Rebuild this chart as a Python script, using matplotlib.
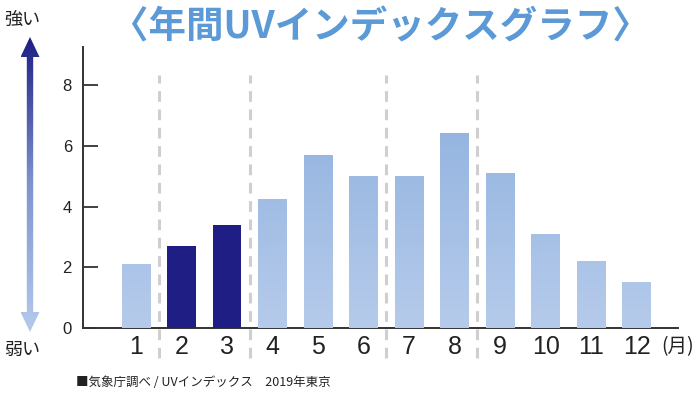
"""Annual UV index bar chart (Tokyo 2019)."""
import matplotlib
matplotlib.use("Agg")
import matplotlib.pyplot as plt
import matplotlib.patches as mpatches
from matplotlib.colors import LinearSegmentedColormap, Normalize
import numpy as np

plt.rcParams["font.family"] = ["Liberation Sans", "Noto Sans CJK JP", "DejaVu Sans"]
JP = ["Noto Sans CJK JP", "DejaVu Sans"]

# data
months = [1, 2, 3, 4, 5, 6, 7, 8, 9, 10, 11, 12]
uv_index = [2.1, 2.7, 3.4, 4.25, 5.7, 5.0, 5.0, 6.4, 5.1, 3.1, 2.2, 1.5]
highlight = [2, 3]
yticks = [0, 2, 4, 6, 8]
season_breaks = [1.5, 3.5, 6.5, 8.5]

NAVY = "#1e1e84"
bar_cmap = LinearSegmentedColormap.from_list("uvbar", ["#b6cbeb", "#95b5e0"])
bar_norm = Normalize(0, 6.5)
BAR_W = 0.62

fig = plt.figure(figsize=(7, 4), dpi=100)

# main axes: x from 83px to 678px, y baseline at 328px, top at 47px
ax = fig.add_axes([83 / 700, 1 - 328 / 400, (678 - 83) / 700, (328 - 47) / 400])

for m, v in zip(months, uv_index):
    x0 = m - BAR_W / 2
    if m in highlight:
        ax.bar(m, v, width=BAR_W, color=NAVY, zorder=3)
    else:
        grad = np.linspace(0, v, 100).reshape(-1, 1)
        ax.imshow(grad, cmap=bar_cmap, norm=bar_norm, origin="lower",
                  extent=[x0, x0 + BAR_W, 0, v], aspect="auto", zorder=3)

# dashed season separators
for xb in season_breaks:
    ax.plot([xb, xb], [-1.0, 8.35], color="#cfcfcf", lw=2.2,
            dashes=(3.5, 2.5), clip_on=False, zorder=2)

ax.set_xlim(-0.165, 12.91)
ax.set_ylim(0, 9.27)

for s in ["top", "right"]:
    ax.spines[s].set_visible(False)
for s in ["left", "bottom"]:
    ax.spines[s].set_color("#333333")
    ax.spines[s].set_linewidth(1.4)

ax.set_yticks(yticks)
ax.set_yticklabels([str(t) for t in yticks], fontsize=12, color="#222222")
ax.tick_params(axis="y", direction="in", length=11, width=1.3, color="#333333", pad=8)
ax.set_xticks(months)
ax.set_xticklabels([str(m) for m in months], fontsize=18, color="#222222")
ax.tick_params(axis="x", length=0, pad=5)
ax.text(12.55, -0.63, "(月)", fontsize=14, family=JP, color="#222222",
        ha="left", va="center", clip_on=False)

# overlay for title, arrow and notes in pixel coordinates
ov = fig.add_axes([0, 0, 1, 1], zorder=-1)
ov.axis("off")

ov.text(380, 27, "〈年間UVインデックスグラフ〉", fontsize=27, fontweight="bold",
        family=JP, color="#5b9ad6", ha="center", va="center")
ov.text(4, 20, "強い", fontsize=13, family=JP, color="#222222", ha="left", va="center")
ov.text(4, 350, "弱い", fontsize=13, family=JP, color="#222222", ha="left", va="center")
ov.text(76, 382, "■気象庁調べ / UVインデックス　2019年東京", fontsize=9,
        family=JP, color="#222222", ha="left", va="center")

# double arrow with gradient
cx, top, bot = 30, 37, 332
hw, hh, sw = 9.5, 20, 3.2
arrow_pts = [(cx, top), (cx + hw, top + hh), (cx + sw, top + hh), (cx + sw, bot - hh),
             (cx + hw, bot - hh), (cx, bot), (cx - hw, bot - hh), (cx - sw, bot - hh),
             (cx - sw, top + hh), (cx - hw, top + hh)]
arrow_poly = mpatches.Polygon(arrow_pts, closed=True, facecolor="none",
                              edgecolor="none", transform=ov.transData)
ov.add_patch(arrow_poly)
arrow_cmap = LinearSegmentedColormap.from_list("arr", ["#1e1e84", "#7f94cf", "#b4caec"])
grad = np.linspace(0, 1, 200).reshape(-1, 1)
im = ov.imshow(grad, cmap=arrow_cmap, extent=[cx - hw, cx + hw, bot, top],
               origin="upper", aspect="auto")
im.set_clip_path(arrow_poly)
ov.set_xlim(0, 700)
ov.set_ylim(400, 0)

fig.savefig("out.png", dpi=100)
